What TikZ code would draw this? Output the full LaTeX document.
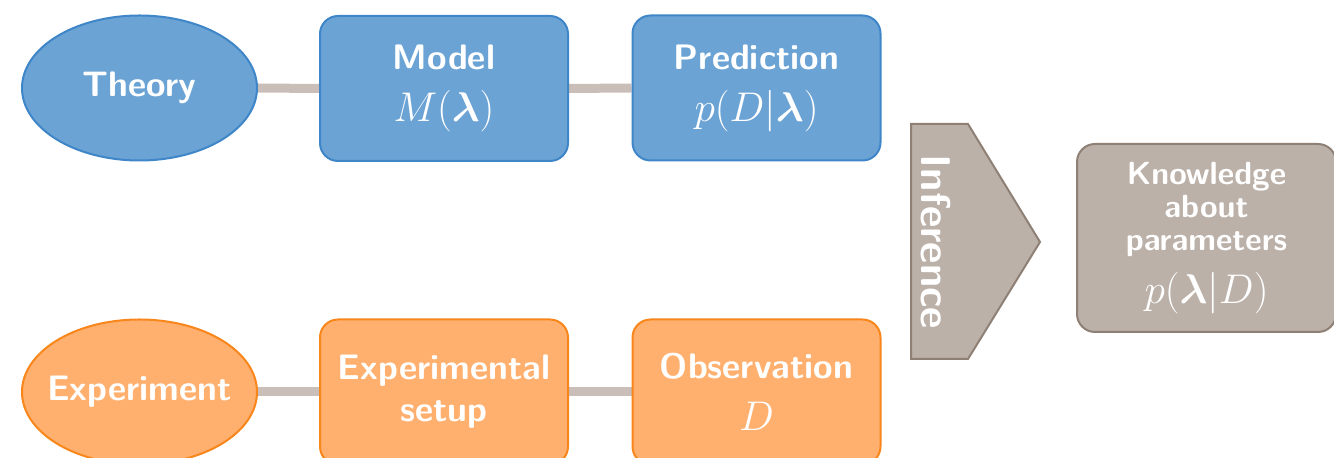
\documentclass[tikz,border=0pt]{standalone}
\usepackage{amsmath}
\usetikzlibrary{shapes.geometric,backgrounds}
\definecolor{bluefill}{HTML}{6BA3D5}
\definecolor{blueline}{HTML}{3E86C8}
\definecolor{orangefill}{HTML}{FFB06E}
\definecolor{orangeline}{HTML}{F8861A}
\definecolor{grayfill}{HTML}{BBB1A9}
\definecolor{grayline}{HTML}{8F8075}
\definecolor{linkcol}{HTML}{C9BFB8}
\newcommand{\mth}[1]{{\fontsize{20}{24}\selectfont$#1$}}
\newcommand{\blam}{\boldsymbol{\lambda}}
\tikzset{
  base/.style={text=white, font=\sffamily\bfseries\fontsize{17.7}{21}\selectfont,
    align=center, line width=1pt, inner sep=0pt},
  ovalnode/.style={base, ellipse, inner xsep=-8pt, minimum width=117.5pt, minimum height=72.5pt},
  boxnode/.style={base, rectangle, rounded corners=9pt, minimum width=124pt, minimum height=72.5pt},
  bluestyle/.style={fill=bluefill, draw=blueline},
  orangestyle/.style={fill=orangefill, draw=orangeline},
  graystyle/.style={fill=grayfill, draw=grayline},
  link/.style={draw=linkcol, line width=4.5pt}
}
\begin{document}
\begin{tikzpicture}[x=0.5pt, y=-0.5pt]
\useasboundingbox (0,0) rectangle (1334,458);

% theory row
\node[ovalnode, bluestyle] (theory) at (139.5,88) {Theory};
\node[boxnode, bluestyle] (model) at (444,88.5) {Model\\[5pt]\mth{M(\blam)}};
\node[boxnode, bluestyle] (pred) at (756.5,88) {Prediction\\[5pt]\mth{p(D|\blam)}};

% experiment row
\node[ovalnode, orangestyle] (exp) at (139.5,392) {Experiment};
\node[boxnode, orangestyle] (setup) at (444,392) {Experimental\\setup};
\node[boxnode, orangestyle] (obs) at (756.5,392) {Observation\\[5pt]\mth{D}};

% inference arrow
\draw[graystyle, line width=1pt] (911,124) -- (968,124) -- (1040,242) -- (968,359) -- (911,359) -- cycle;
\node[base, rotate=-90, font=\sffamily\bfseries\fontsize{20.8}{24}\selectfont] (inf) at (936,242) {Inference};

% result
\node[boxnode, graystyle, minimum width=129.5pt, minimum height=94pt,
  font=\sffamily\bfseries\fontsize{16}{16.5}\selectfont] (know) at (1206.5,238)
  {Knowledge\\about\\parameters\\[7pt]\mth{p(\blam|D)}};

\begin{scope}[on background layer]
  \draw[link] (theory.east) -- (model.west);
  \draw[link] (model.east) -- (pred.west);
  \draw[link] (exp.east) -- (setup.west);
  \draw[link] (setup.east) -- (obs.west);
\end{scope}
\end{tikzpicture}
\end{document}
